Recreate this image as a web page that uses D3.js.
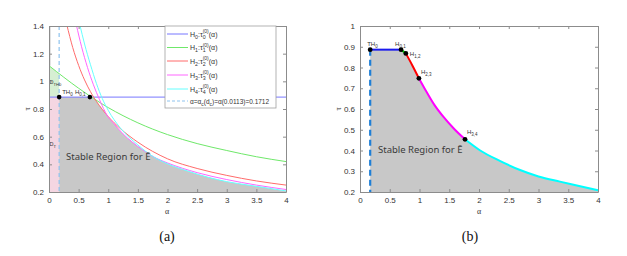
<!DOCTYPE html>
<html>
<head>
<meta charset="utf-8">
<script src="https://cdn.jsdelivr.net/npm/d3@7"></script>
<style>
  body { margin: 0; background: #fff; }
  svg { font-family: "Liberation Sans", Arial, sans-serif; }
</style>
</head>
<body>
<svg id="fig" width="627" height="256"></svg>
<script>
// ---- data ----
var alphaTicks = [0, 0.5, 1, 1.5, 2, 2.5, 3, 3.5, 4];
var tauTicksA = [0.2, 0.4, 0.6, 0.8, 1, 1.2, 1.4];
var tauTicksB = [0.2, 0.3, 0.4, 0.5, 0.6, 0.7, 0.8, 0.9, 1];

var alphaC = 0.1712;
var tauTH = 0.886;

// tau_k^(0)(alpha) curves, panel (a)
var h0Alpha = [0, 4];
var h0Tau = [0.886, 0.886];
var h1Alpha = [0, 0.5, 1, 1.5, 2, 2.5, 3, 3.5, 4];
var h1Tau = [1.113, 0.95, 0.81, 0.70, 0.615, 0.55, 0.50, 0.455, 0.42];
var h2Alpha = [0.30, 0.4, 0.5, 0.6, 0.7, 0.8, 0.9, 1.0, 1.2, 1.5, 2, 2.5, 3, 3.5, 4];
var h2Tau = [1.41, 1.245, 1.115, 1.01, 0.925, 0.855, 0.797, 0.745, 0.66, 0.56, 0.44, 0.37, 0.32, 0.28, 0.25];
var h3Alpha = [0.46, 0.55, 0.65, 0.75, 0.85, 0.99, 1.1, 1.25, 1.4, 1.58, 1.765, 2, 2.5, 3, 3.5, 4];
var h3Tau = [1.41, 1.25, 1.10, 0.975, 0.87, 0.748, 0.692, 0.62, 0.563, 0.505, 0.454, 0.41, 0.34, 0.29, 0.25, 0.218];
var h4Alpha = [0.52, 0.6, 0.7, 0.8, 0.9, 1.0, 1.2, 1.5, 1.765, 2.02, 2.35, 2.69, 3, 3.36, 3.7, 4];
var h4Tau = [1.41, 1.27, 1.12, 0.985, 0.875, 0.79, 0.665, 0.54, 0.454, 0.40, 0.35, 0.306, 0.275, 0.25, 0.228, 0.208];

// D_TH0 wedge (under green curve, above tau_TH, alpha < alphaC)
var dthAlpha = [0, 0.1712];
var dthTau = [1.113, 1.057];

// stability boundary pieces, panel (b)
var segBlueAlpha = [0.1712, 0.69];
var segBlueTau = [0.886, 0.886];
var segGreenAlpha = [0.69, 0.77];
var segGreenTau = [0.886, 0.868];
var segRedAlpha = [0.77, 0.88, 0.99];
var segRedTau = [0.868, 0.81, 0.748];
var segMagAlpha = [0.99, 1.1, 1.25, 1.4, 1.58, 1.765];
var segMagTau = [0.748, 0.692, 0.62, 0.563, 0.505, 0.454];
var segCyanAlpha = [1.765, 2.02, 2.35, 2.69, 3.0, 3.36, 3.7, 4];
var segCyanTau = [0.454, 0.40, 0.35, 0.306, 0.275, 0.25, 0.228, 0.208];

var hopfNames = ["TH0", "H0,1", "H1,2", "H2,3", "H3,4"];
var hopfAlpha = [0.1712, 0.69, 0.77, 0.99, 1.765];
var hopfTau = [0.886, 0.886, 0.868, 0.748, 0.454];

function zip(a, t) { return a.map(function (d, i) { return [d, t[i]]; }); }

var svg = d3.select("#fig");

// rich text: parts = [[text, kind, dx]], kind "" | "sub" | "sup"
function rich(g, x, y, parts, size, color) {
  var t = g.append("text").attr("x", x).attr("y", y)
    .attr("font-size", size).attr("fill", color || "#333");
  var base = 0;
  parts.forEach(function (p) {
    var s = t.append("tspan").text(p[0]);
    var target = 0, fs = size;
    if (p[1] === "sub") { target = size * 0.35; fs = size * 0.75; }
    if (p[1] === "sup") { target = -size * 0.45; fs = size * 0.72; }
    s.attr("dy", target - base).attr("font-size", fs);
    if (p[2]) s.attr("dx", p[2]);
    base = target;
  });
  return t;
}

function panel(x0, x1, y0, y1, tauDomain) {
  var x = d3.scaleLinear().domain([0, 4]).range([x0, x1]);
  var y = d3.scaleLinear().domain(tauDomain).range([y1, y0]);
  var g = svg.append("g");
  return { g: g, x: x, y: y };
}

function axes(p, tauTicks, xLabelX, yLabelX) {
  var g = p.g, x = p.x, y = p.y;
  var fmt = function (d) { return d3.format("~g")(d); };
  var r = x.range(), d = y.range();
  g.append("g").attr("transform", "translate(0," + d[0] + ")")
    .call(d3.axisBottom(x).tickValues(alphaTicks).tickFormat(fmt).tickSizeInner(-3).tickSizeOuter(0).tickPadding(5));
  g.append("g").attr("transform", "translate(0," + d[1] + ")")
    .call(d3.axisTop(x).tickValues(alphaTicks).tickFormat("").tickSizeInner(-3).tickSizeOuter(0));
  g.append("g").attr("transform", "translate(" + r[0] + ",0)")
    .call(d3.axisLeft(y).tickValues(tauTicks).tickFormat(fmt).tickSizeInner(-3).tickSizeOuter(0).tickPadding(5));
  g.append("g").attr("transform", "translate(" + r[1] + ",0)")
    .call(d3.axisRight(y).tickValues(tauTicks).tickFormat("").tickSizeInner(-3).tickSizeOuter(0));
  g.selectAll(".domain").attr("stroke", "#8c8c8c");
  g.selectAll(".tick line").attr("stroke", "#8c8c8c");
  g.selectAll(".tick text").attr("fill", "#333").attr("font-size", 8)
    .style("font-family", "'Liberation Sans', Arial, sans-serif");
  g.append("text").attr("x", xLabelX).attr("y", 214).attr("text-anchor", "middle")
    .style("font-family", "'Liberation Serif', serif").attr("font-size", 8).attr("fill", "#333").text("α");
  g.append("text").attr("transform", "translate(" + yLabelX + "," + ((d[0] + d[1]) / 2) + ") rotate(-90)")
    .attr("text-anchor", "middle").style("font-family", "'Liberation Serif', serif")
    .attr("font-size", 8).attr("fill", "#333").text("τ");
}

// ---------- panel (a) ----------
var A = panel(49, 286, 26, 192, [0.2, 1.4]);
var ax = A.x, ay = A.y;

svg.append("clipPath").attr("id", "clipA").append("rect")
  .attr("x", 49).attr("y", 26).attr("width", 237).attr("height", 166);

var boundary = zip(segBlueAlpha, segBlueTau)
  .concat(zip(segGreenAlpha, segGreenTau).slice(1))
  .concat(zip(segRedAlpha, segRedTau).slice(1))
  .concat(zip(segMagAlpha, segMagTau).slice(1))
  .concat(zip(segCyanAlpha, segCyanTau).slice(1));

var areaA = d3.area().x(function (d) { return ax(d[0]); })
  .y0(ay(0.2)).y1(function (d) { return ay(d[1]); }).curve(d3.curveMonotoneX);

A.g.append("path").datum(boundary).attr("d", areaA).attr("fill", "#c8c8c8");
// pink D_T
A.g.append("rect").attr("x", ax(0)).attr("y", ay(tauTH))
  .attr("width", ax(alphaC) - ax(0)).attr("height", ay(0.2) - ay(tauTH)).attr("fill", "#f4d6e2");
// green D_TH0
A.g.append("path").datum(zip(dthAlpha, dthTau))
  .attr("d", d3.area().x(function (d) { return ax(d[0]); }).y0(ay(tauTH)).y1(function (d) { return ay(d[1]); }))
  .attr("fill", "#d6efd3");
// thin gray strip on the left edge
A.g.append("rect").attr("x", ax(0)).attr("y", ay(1.4)).attr("width", ax(0.03) - ax(0))
  .attr("height", ay(dthTau[0]) - ay(1.4)).attr("fill", "#dcdcdc");

var lineA = d3.line().x(function (d) { return ax(d[0]); }).y(function (d) { return ay(d[1]); }).curve(d3.curveMonotoneX);
var curvesA = [
  { a: h0Alpha, t: h0Tau, c: "#7777ff" },
  { a: h1Alpha, t: h1Tau, c: "#6fe86a" },
  { a: h2Alpha, t: h2Tau, c: "#ff6b6b" },
  { a: h3Alpha, t: h3Tau, c: "#ff66ff" },
  { a: h4Alpha, t: h4Tau, c: "#66ffff" }
];
var cg = A.g.append("g").attr("clip-path", "url(#clipA)");
curvesA.forEach(function (c) {
  cg.append("path").datum(zip(c.a, c.t)).attr("d", lineA)
    .attr("fill", "none").attr("stroke", c.c).attr("stroke-width", 1);
});
cg.append("line").attr("x1", ax(alphaC)).attr("x2", ax(alphaC)).attr("y1", ay(1.4)).attr("y2", ay(0.2))
  .attr("stroke", "#8ec3ee").attr("stroke-width", 1.2).attr("stroke-dasharray", "4,3");

A.g.selectAll(".dotA").data([0, 1]).enter().append("circle")
  .attr("cx", function (i) { return ax(hopfAlpha[i]); })
  .attr("cy", function (i) { return ay(hopfTau[i]); })
  .attr("r", 2.3).attr("fill", "#000");
rich(A.g, ax(alphaC) + 3, ay(tauTH) - 3, [["TH", ""], ["0", "sub"]], 6);
rich(A.g, ax(hopfAlpha[1]) - 15, ay(tauTH) - 3, [["H", ""], ["0,1", "sub"]], 6);
rich(A.g, ax(0) + 0.5, ay(0.98), [["D", ""], ["TH", "sub"], ["0", "sub"]], 5.5);
rich(A.g, ax(0) + 0.5, ay(0.53), [["D", ""], ["T", "sub"]], 5.5);
A.g.append("text").attr("x", 66).attr("y", 160).style("font-family", "'Noto Sans', sans-serif")
  .attr("font-size", 9.5).attr("fill", "#3a3a3a").text("Stable Region for Ē");

axes(A, tauTicksA, 167, 30);

// legend
var lg = A.g.append("g");
lg.append("rect").attr("x", 165).attr("y", 26).attr("width", 111).attr("height", 82)
  .attr("fill", "#fff").attr("stroke", "#a0a0a0").attr("stroke-width", 0.8);
var legendY = [34, 47.5, 61, 75, 89, 101];
curvesA.forEach(function (c, i) {
  lg.append("line").attr("x1", 167).attr("x2", 188).attr("y1", legendY[i]).attr("y2", legendY[i])
    .attr("stroke", c.c).attr("stroke-width", 1);
  rich(lg, 190, legendY[i] + 2.5, [["H", ""], ["" + i, "sub"], [":τ", ""], ["" + i, "sub"], ["(0)", "sup", -3], ["(α)", ""]], 7, "#333");
});
lg.append("line").attr("x1", 167).attr("x2", 188).attr("y1", legendY[5]).attr("y2", legendY[5])
  .attr("stroke", "#8ec3ee").attr("stroke-width", 1).attr("stroke-dasharray", "3,2");
rich(lg, 190, legendY[5] + 2.5, [["α=α", ""], ["c", "sub"], ["(d", ""], ["c", "sub"], [")=α(0.0113)=0.1712", ""]], 6.5, "#333");

// ---------- panel (b) ----------
var B = panel(360, 598, 26, 192, [0.2, 1]);
var bx = B.x, by = B.y;
var areaB = d3.area().x(function (d) { return bx(d[0]); })
  .y0(by(0.2)).y1(function (d) { return by(d[1]); }).curve(d3.curveMonotoneX);
B.g.append("path").datum(boundary).attr("d", areaB).attr("fill", "#c8c8c8");

var lineB = d3.line().x(function (d) { return bx(d[0]); }).y(function (d) { return by(d[1]); }).curve(d3.curveMonotoneX);
var segs = [
  { a: segBlueAlpha, t: segBlueTau, c: "#1a1aee" },
  { a: segGreenAlpha, t: segGreenTau, c: "#00cc00" },
  { a: segRedAlpha, t: segRedTau, c: "#ff0000" },
  { a: segMagAlpha, t: segMagTau, c: "#ff00ff" },
  { a: segCyanAlpha, t: segCyanTau, c: "#00ffff" }
];
segs.forEach(function (s) {
  B.g.append("path").datum(zip(s.a, s.t)).attr("d", lineB)
    .attr("fill", "none").attr("stroke", s.c).attr("stroke-width", 2);
});
B.g.append("line").attr("x1", bx(alphaC)).attr("x2", bx(alphaC)).attr("y1", by(tauTH)).attr("y2", by(0.2))
  .attr("stroke", "#1f7fd6").attr("stroke-width", 2.2).attr("stroke-dasharray", "6,4");

B.g.selectAll(".dotB").data(hopfNames).enter().append("circle")
  .attr("cx", function (d, i) { return bx(hopfAlpha[i]); })
  .attr("cy", function (d, i) { return by(hopfTau[i]); })
  .attr("r", 2.4).attr("fill", "#000");
var labOff = [[-3, -4], [-6, -4], [4, 3], [2, -4], [2, -5]];
hopfNames.forEach(function (n, i) {
  var parts = n === "TH0" ? [["TH", ""], ["0", "sub"]] : [["H", ""], [n.slice(1), "sub"]];
  rich(B.g, bx(hopfAlpha[i]) + labOff[i][0], by(hopfTau[i]) + labOff[i][1], parts, 6);
});
B.g.append("text").attr("x", 378).attr("y", 153).style("font-family", "'Noto Sans', sans-serif")
  .attr("font-size", 9.5).attr("fill", "#3a3a3a").text("Stable Region for Ē");

axes(B, tauTicksB, 479, 341);

// captions
svg.append("text").attr("x", 167).attr("y", 241).attr("text-anchor", "middle")
  .style("font-family", "'Liberation Serif', serif").attr("font-size", 14).attr("fill", "#111").text("(a)");
svg.append("text").attr("x", 470).attr("y", 241).attr("text-anchor", "middle")
  .style("font-family", "'Liberation Serif', serif").attr("font-size", 14).attr("fill", "#111").text("(b)");
</script>
</body>
</html>
